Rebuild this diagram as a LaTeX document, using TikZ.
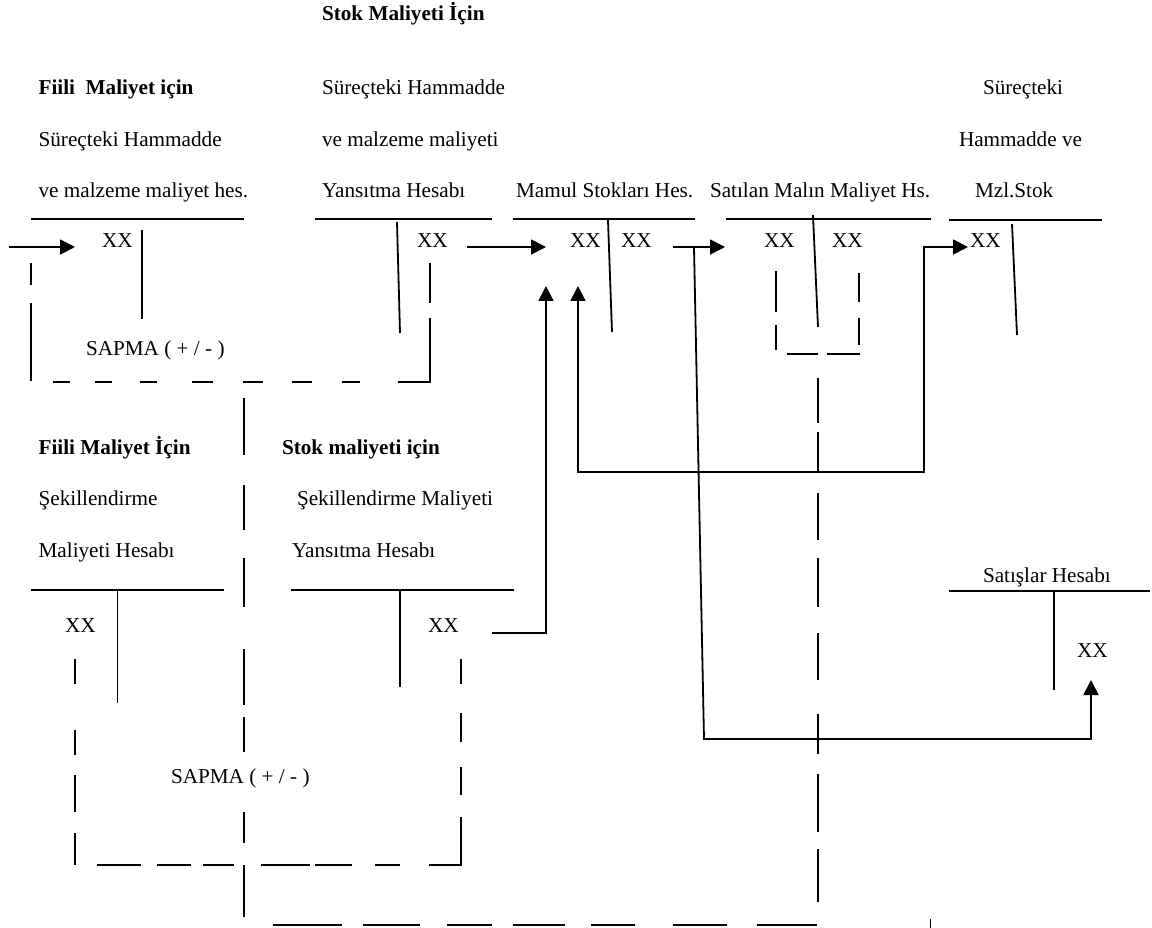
\documentclass[tikz,border=0pt]{standalone}
\usepackage{fontspec}
\setmainfont{Liberation Serif}
\usetikzlibrary{arrows.meta}
\begin{document}
\begin{tikzpicture}[x=1pt,y=-1pt,
  every node/.style={inner sep=0pt,outer sep=0pt,font=\fontsize{21.2}{25}\selectfont},
  lbl/.style={anchor=base west},
  blbl/.style={anchor=base west,font=\fontsize{21.2}{25}\selectfont\bfseries},
  tline/.style={line width=1.8pt},
  conn/.style={line width=1.8pt,-{Triangle[length=15pt,width=15pt]}},
  bconn/.style={line width=1.8pt,{Triangle[length=15pt,width=15pt]}-{Triangle[length=15pt,width=15pt]}},
  dseg/.style={line width=1.8pt}]
\useasboundingbox (0,0) rectangle (1152,928);

% ---------- texts ----------
\node[blbl] (title) at (322,21) {Stok Maliyeti İçin};
\node[blbl] (h1a) at (38.6,95) {Fiili\ \ Maliyet için};
\node[lbl]  (h1b) at (38.6,146.5) {Süreçteki Hammadde};
\node[lbl]  (h1c) at (38.6,198) {ve malzeme maliyet hes.};
\node[lbl]  (h2a) at (322,95) {Süreçteki Hammadde};
\node[lbl]  (h2b) at (322,146.5) {ve malzeme maliyeti};
\node[lbl]  (h2c) at (322,198) {Yansıtma Hesabı};
\node[lbl]  (h3)  at (516,198) {Mamul Stokları Hes.};
\node[lbl]  (h4)  at (710,198) {Satılan Malın Maliyet Hs.};
\node[lbl]  (h5a) at (983,95) {Süreçteki};
\node[lbl]  (h5b) at (959,146.5) {Hammadde ve};
\node[lbl]  (h5c) at (975,198) {Mzl.Stok};

\node[lbl] (x1)  at (102,248) {XX};
\node[lbl] (x2)  at (417,248) {XX};
\node[lbl] (x3a) at (570,248) {XX};
\node[lbl] (x3b) at (621,248) {XX};
\node[lbl] (x4a) at (764,248) {XX};
\node[lbl] (x4b) at (832,248) {XX};
\node[lbl] (x5)  at (970,248) {XX};
\node[lbl] (s1)  at (86,355) {SAPMA ( + / - )};

\node[blbl] (h6a) at (38.6,454) {Fiili Maliyet İçin};
\node[blbl] (h7a) at (282,454) {Stok maliyeti için};
\node[lbl]  (h6b) at (38.6,505) {Şekillendirme};
\node[lbl]  (h7b) at (297,505) {Şekillendirme Maliyeti};
\node[lbl]  (h6c) at (38.6,557) {Maliyeti Hesabı};
\node[lbl]  (h7c) at (292,557) {Yansıtma Hesabı};
\node[lbl] (x6) at (65,632) {XX};
\node[lbl] (x7) at (428,632) {XX};
\node[lbl] (s2) at (171,783) {SAPMA ( + / - )};
\node[lbl] (h8) at (983,582) {Satışlar Hesabı};
\node[lbl] (x8) at (1077,657) {XX};

% ---------- T accounts ----------
\draw[tline] (31,219) -- (244,219);   \draw[tline] (142,230) -- (142,319);
\draw[tline] (315,219) -- (492,219);  \draw[tline] (397,222) -- (400,333);
\draw[tline] (513,219) -- (695,219);  \draw[tline] (608,220) -- (612,332);
\draw[tline] (726,219) -- (931,219);  \draw[tline] (813,215) -- (818,327);
\draw[tline] (949,220) -- (1102,220); \draw[tline] (1012,224) -- (1017,335);
\draw[tline] (31,590) -- (224,590);   \draw[tline] (117.5,590) -- (117.5,703);
\draw[tline] (291,590) -- (514,590);  \draw[tline] (400,590) -- (400,687);
\draw[tline] (949,591) -- (1150,591); \draw[tline] (1054,591) -- (1054,690);

% ---------- connectors ----------
\coordinate (inA) at (9,247);   \coordinate (inB) at (75,247);
\draw[conn] (inA) -- (inB);
\coordinate (c2a) at (467,247); \coordinate (c2b) at (546,247);
\draw[conn] (c2a) -- (c2b);
\coordinate (c3a) at (673,247); \coordinate (c3b) at (725,247);
\draw[conn] (c3a) -- (c3b);
\coordinate (c4a) at (694,247); \coordinate (c4b) at (704,739);
\coordinate (c4c) at (1091,739); \coordinate (c4d) at (1091,680);
\draw[conn] (c4a) -- (c4b) -- (c4c) -- (c4d);
\coordinate (r1) at (578,286); \coordinate (r2) at (578,472);
\coordinate (r3) at (924,472); \coordinate (r4) at (924,247);
\coordinate (r5) at (968,247);
\draw[bconn] (r1) -- (r2) -- (r3) -- (r4) -- (r5);
\coordinate (c7a) at (492,633); \coordinate (c7b) at (546,633);
\coordinate (c7c) at (546,286);
\draw[conn] (c7a) -- (c7b) -- (c7c);

% ---------- dashed loops ----------
% box 1
\foreach \a/\b in {263/285,303/381} \draw[dseg] (31,\a) -- (31,\b);
\foreach \a/\b in {263/303,318/383} \draw[dseg] (430,\a) -- (430,\b);
\foreach \a/\b in {53/70,95/112,140/157,192/213,243/263,292/312,342/360,398/431}
  \draw[dseg] (\a,382) -- (\b,382);
% centre vertical
\foreach \a/\b in {398/455,485/530,558/607,649/705,717/752,812/843,865/917}
  \draw[dseg] (244,\a) -- (244,\b);
% box 2
\foreach \a/\b in {659/684,730/755,775/812,833/865} \draw[dseg] (75,\a) -- (75,\b);
\foreach \a/\b in {659/684,713/742,767/795,817/865} \draw[dseg] (461,\a) -- (461,\b);
\foreach \a/\b in {97/141,157/191,203/234,261/310,315/352,375/400,429/462}
  \draw[dseg] (\a,865) -- (\b,865);
% bottom line
\foreach \a/\b in {273/342,363/420,447/492,513/565,591/635,673/727,757/817}
  \draw[dseg] (\a,925) -- (\b,925);
\draw[line width=1pt] (930,919) -- (930,928);
% T4 box and right vertical
\foreach \a/\b in {271/312,325/350} \draw[dseg] (776,\a) -- (776,\b);
\foreach \a/\b in {273/302,318/345} \draw[dseg] (859,\a) -- (859,\b);
\foreach \a/\b in {787/818,827/860} \draw[dseg] (\a,354) -- (\b,354);
\foreach \a/\b in {378/423,432/472,493/540,558/607,633/680,714/754,774/832,849/902}
  \draw[dseg] (818,\a) -- (818,\b);
\end{tikzpicture}
\end{document}
